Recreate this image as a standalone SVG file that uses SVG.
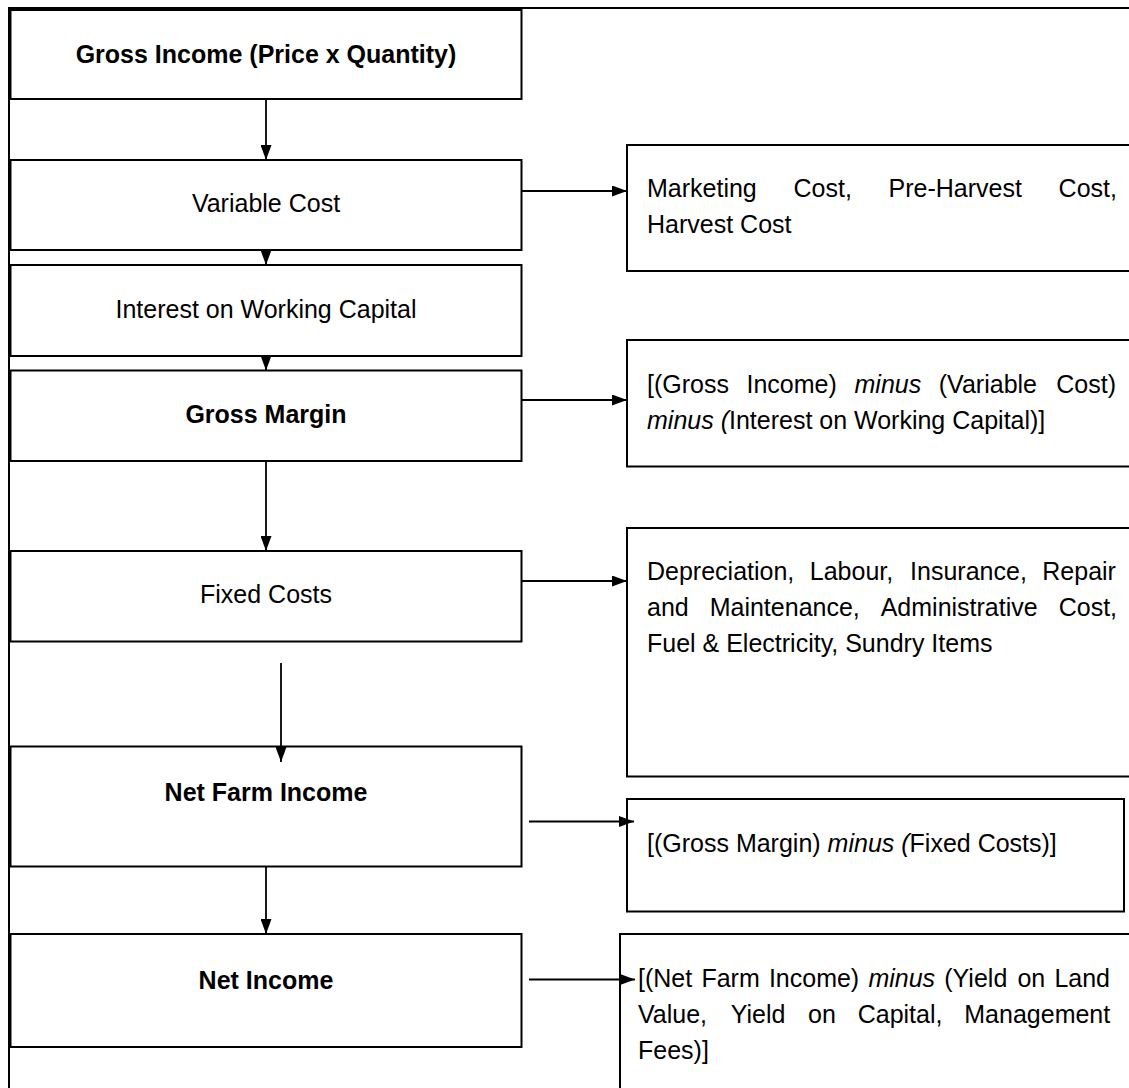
<svg xmlns="http://www.w3.org/2000/svg" width="1129" height="1088" viewBox="0 0 1129 1088">
<style>
.box{fill:#fff;stroke:#000;stroke-width:2}
.frame{fill:none;stroke:#000;stroke-width:2}
.t{font-family:"Liberation Sans",Arial,sans-serif;font-size:25px;fill:#000}
.c{text-anchor:middle}
.b{font-weight:bold}
.i{font-style:italic}
.con{stroke:#000;stroke-width:1.8;fill:none;marker-end:url(#ah)}
</style>
<defs>
<marker id="ah" markerUnits="userSpaceOnUse" markerWidth="15" markerHeight="11" refX="15" refY="5.5" orient="auto">
<path d="M0,0 L15,5.5 L0,11 Z" fill="#000"/>
</marker>
</defs>
<rect width="1129" height="1088" fill="#fff"/>
<g id="frame">
<path class="frame" d="M9,1090 V8 H1131"/>
</g>
<g id="gross-income">
<rect class="box" x="10.5" y="10" width="511" height="89"/>
<text class="t c b" x="266" y="63">Gross Income (Price x Quantity)</text>
</g>
<g id="variable-cost">
<rect class="box" x="10.5" y="160" width="511" height="90"/>
<text class="t c" x="266" y="212">Variable Cost</text>
</g>
<g id="variable-cost-items">
<rect class="box" x="627" y="145" width="520" height="126"/>
<text class="t" y="197"><tspan x="647">Marketing</tspan><tspan x="793.5">Cost,</tspan><tspan x="888.5">Pre-Harvest</tspan><tspan x="1058.6">Cost,</tspan></text>
<text class="t" x="647" y="233">Harvest Cost</text>
</g>
<g id="interest">
<rect class="box" x="10.5" y="265" width="511" height="91"/>
<text class="t c" x="266" y="318">Interest on Working Capital</text>
</g>
<g id="gross-margin">
<rect class="box" x="10.5" y="370.5" width="511" height="90.5"/>
<text class="t c b" x="266" y="423">Gross Margin</text>
</g>
<g id="gross-margin-formula">
<rect class="box" x="627" y="340" width="520" height="126.5"/>
<text class="t" y="392.5"><tspan x="647">[(Gross</tspan><tspan x="746.5">Income)</tspan><tspan x="854.5" class="i">minus</tspan><tspan x="938.8">(Variable</tspan><tspan x="1056.3">Cost)</tspan></text>
<text class="t" x="647" y="428.5"><tspan class="i">minus (</tspan>Interest on Working Capital)]</text>
</g>
<g id="fixed-costs">
<rect class="box" x="10.5" y="551" width="511" height="90.5"/>
<text class="t c" x="266" y="603">Fixed Costs</text>
</g>
<g id="fixed-costs-items">
<rect class="box" x="627" y="528" width="520" height="248.5"/>
<text class="t" y="580"><tspan x="647">Depreciation,</tspan><tspan x="809.8">Labour,</tspan><tspan x="910.1">Insurance,</tspan><tspan x="1042.3">Repair</tspan></text>
<text class="t" y="616"><tspan x="647">and</tspan><tspan x="709.7">Maintenance,</tspan><tspan x="880.7">Administrative</tspan><tspan x="1058.7">Cost,</tspan></text>
<text class="t" x="647" y="652">Fuel &amp; Electricity, Sundry Items</text>
</g>
<g id="net-farm-income">
<rect class="box" x="10.5" y="746.5" width="511" height="120"/>
<text class="t c b" x="266" y="800.5">Net Farm Income</text>
</g>
<g id="net-farm-income-formula">
<rect class="box" x="627" y="799" width="497" height="112.5"/>
<text class="t" x="647" y="851.5">[(Gross Margin) <tspan class="i">minus (</tspan>Fixed Costs)]</text>
</g>
<g id="net-income">
<rect class="box" x="10.5" y="934" width="511" height="113"/>
<text class="t c b" x="266" y="989">Net Income</text>
</g>
<g id="net-income-formula">
<rect class="box" x="620" y="934" width="530" height="170"/>
<text class="t" y="986.5"><tspan x="638">[(Net</tspan><tspan x="701.4">Farm</tspan><tspan x="768.9">Income)</tspan><tspan x="868.4" class="i">minus</tspan><tspan x="944.3">(Yield</tspan><tspan x="1017.4">on</tspan><tspan x="1054.4">Land</tspan></text>
<text class="t" y="1022.5"><tspan x="638">Value,</tspan><tspan x="730.7">Yield</tspan><tspan x="808.1">on</tspan><tspan x="857.7">Capital,</tspan><tspan x="964.3">Management</tspan></text>
<text class="t" x="638" y="1058.5">Fees)]</text>
</g>
<g id="connectors">
<line class="con" x1="266" y1="99" x2="266" y2="160"/>
<line class="con" x1="266" y1="250" x2="266" y2="265"/>
<line class="con" x1="266" y1="356" x2="266" y2="370.5"/>
<line class="con" x1="266" y1="461" x2="266" y2="551"/>
<line class="con" x1="281" y1="663" x2="281" y2="762"/>
<line class="con" x1="266" y1="866.5" x2="266" y2="934"/>
<line class="con" x1="521.5" y1="191" x2="627" y2="191"/>
<line class="con" x1="521.5" y1="400" x2="627" y2="400"/>
<line class="con" x1="521.5" y1="581" x2="627" y2="581"/>
<line class="con" x1="529" y1="821.5" x2="634" y2="821.5"/>
<line class="con" x1="529" y1="979.5" x2="635" y2="979.5"/>
</g>
</svg>
